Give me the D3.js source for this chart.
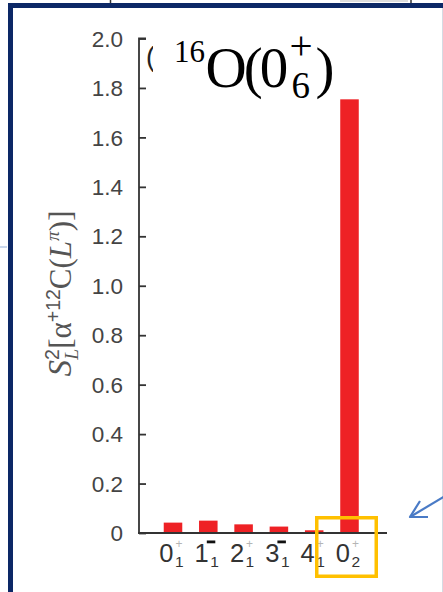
<!DOCTYPE html>
<html><head><meta charset="utf-8">
<script src="https://cdn.jsdelivr.net/npm/d3@7"></script>
<style>html,body{margin:0;padding:0;background:#fff;overflow:hidden}</style>
</head><body>
<svg id="c" width="443" height="592"></svg>
<script>
// ---- data ----
const stateSpins = ["0","1","2","3","4","0"];
const stateParity = ["+","−","+","−","+","+"];
const stateIndex = ["1","1","1","1","1","2"];
const values = [0.042, 0.05, 0.035, 0.026, 0.011, 1.754];
const yTicks = [0,0.2,0.4,0.6,0.8,1.0,1.2,1.4,1.6,1.8,2.0];
const yTickLabels = ["0","0.2","0.4","0.6","0.8","1.0","1.2","1.4","1.6","1.8","2.0"];

const svg = d3.select("#c");
const navy = "#0c2866";

// slide background / frame
svg.append("rect").attr("width",443).attr("height",592).attr("fill","#fff");
svg.append("rect").attr("x",8).attr("y",3).attr("width",435).attr("height",5).attr("fill",navy);
svg.append("rect").attr("x",8).attr("y",3).attr("width",5).attr("height",589).attr("fill",navy);
svg.append("line").attr("x1",442.5).attr("x2",442.5).attr("y1",8).attr("y2",592).attr("stroke","#d5dbe3").attr("stroke-width",1);
svg.append("line").attr("x1",0).attr("x2",7).attr("y1",247).attr("y2",247).attr("stroke","#b9cbe6").attr("stroke-width",1.5);
svg.append("line").attr("x1",340).attr("x2",408).attr("y1",1).attr("y2",1).attr("stroke","#bbb").attr("stroke-width",1);
svg.append("line").attr("x1",110.5).attr("x2",110.5).attr("y1",0).attr("y2",3).attr("stroke","#333").attr("stroke-width",1.5);
svg.append("line").attr("x1",411).attr("x2",411).attr("y1",0).attr("y2",3).attr("stroke","#333").attr("stroke-width",1.5);

// scales
const y = d3.scaleLinear().domain([0,2]).range([533,38.5]);
const idx = d3.range(values.length);
const x = d3.scaleBand().domain(idx).range([155.35,367.15]).paddingInner(0.475).paddingOuter(0.2375);

// bars
svg.append("g").selectAll("rect").data(values).join("rect")
  .attr("x",(d,i)=>x(i)).attr("width",x.bandwidth())
  .attr("y",d=>y(d)).attr("height",d=>y(0)-y(d))
  .attr("fill","#ee2125");

// y axis (ticks pointing inward)
const yAxis = d3.axisRight(y).tickValues(yTicks).tickSize(7).tickFormat(()=>"");
const ga = svg.append("g").attr("transform","translate(139,0)").call(yAxis);
ga.select(".domain").attr("stroke","#333").attr("stroke-width",1.8).attr("d","M7,38.5H0V533");
ga.selectAll(".tick line").attr("stroke","#333").attr("stroke-width",1.8);
svg.append("g").selectAll("text").data(yTicks).join("text")
  .attr("x",123).attr("y",d=>y(d)).attr("dy","0.36em")
  .attr("text-anchor","end").attr("font-family","Liberation Sans, Arial, sans-serif")
  .attr("font-size",22.5).attr("fill","#444").text((d,i)=>yTickLabels[i]);

// x axis line
svg.append("line").attr("x1",138).attr("x2",387).attr("y1",y(0)).attr("y2",y(0))
  .attr("stroke","#333").attr("stroke-width",2);

// x labels
const xl = svg.append("g").attr("font-family","Liberation Sans, Arial, sans-serif");
idx.forEach(i=>{
  const c = x(i)+x.bandwidth()/2;
  xl.append("text").attr("x",c+0.5).attr("y",562).attr("text-anchor","end")
    .attr("font-size",25.5).attr("fill","#333").text(stateSpins[i]);
  xl.append("text").attr("x",c+2).attr("y",567).attr("font-size",15.5).attr("fill","#333").text(stateIndex[i]);
  if (stateParity[i]==="+") {
    xl.append("text").attr("x",c+2.5).attr("y",548).attr("font-size",12).attr("fill","#b5b5b5").text("+");
  } else {
    xl.append("rect").attr("x",c-1.5).attr("y",540.5).attr("width",8.5).attr("height",2.8).attr("fill","#111");
  }
});

// highlight box
svg.append("rect").attr("x",316.75).attr("y",517.75).attr("width",59.5).attr("height",58.5)
  .attr("fill","none").attr("stroke","#ffc000").attr("stroke-width",3.5);

// arrow
const ac = "#4a7bc6";
svg.append("line").attr("x1",445).attr("y1",496).attr("x2",410).attr("y2",517).attr("stroke",ac).attr("stroke-width",2.2);
svg.append("polyline").attr("points","420,501 410,517 428,517").attr("fill","none").attr("stroke",ac).attr("stroke-width",2.2).attr("stroke-linejoin","round");

// y axis label
const sans = "Liberation Sans, Arial, sans-serif";
const serif = "Liberation Serif, Times New Roman, serif";
const yl = svg.append("text").attr("transform","translate(71,293.5) rotate(-90)")
  .attr("text-anchor","middle").attr("font-family",sans)
  .attr("font-size",31).attr("fill","#555");
yl.append("tspan").attr("font-family",serif).attr("font-style","italic").attr("font-size",33).text("S");
yl.append("tspan").attr("font-size",19.5).attr("dy",-12.5).text("2");
yl.append("tspan").attr("font-size",19.5).attr("font-family",serif).attr("font-style","italic").attr("dx",-10.5).attr("dy",19.5).text("L");
yl.append("tspan").attr("dy",-7).attr("font-family",serif).text("[");
yl.append("tspan").attr("font-family",serif).text("α");
yl.append("tspan").attr("font-size",19.5).attr("dy",-11.5).text("+");
yl.append("tspan").attr("font-size",19.5).text("12");
yl.append("tspan").attr("dy",11.5).attr("font-family",serif).text("C(");
yl.append("tspan").attr("font-family",serif).attr("font-style","italic").text("L");
yl.append("tspan").attr("font-size",19.5).attr("font-family",serif).attr("font-style","italic").attr("dy",-12.5).text("π");
yl.append("tspan").attr("dy",12.5).attr("font-family",serif).text(")]");

// clipped remnant of original title
svg.append("clipPath").attr("id","cl").append("rect").attr("x",140).attr("y",40).attr("width",13).attr("height",40);
svg.append("text").attr("clip-path","url(#cl)").attr("x",146).attr("y",66)
  .attr("font-family",sans).attr("font-size",27).attr("fill","#222").text("(");

// title
const titleParts = [
  {t:"16",  x:174,   y:62, s:31, ls:0},
  {t:"O(0", x:205.5, y:87, s:57, ls:-3},
  {t:"+",   x:289.5, y:59, s:41, ls:0},
  {t:"6",   x:291.5, y:98, s:37, ls:0},
  {t:")",   x:315.5, y:87, s:57, ls:0}
];
svg.append("text").attr("font-family",serif).attr("fill","#000")
  .selectAll("tspan").data(titleParts).join("tspan")
  .attr("x",d=>d.x).attr("y",d=>d.y).attr("font-size",d=>d.s)
  .attr("letter-spacing",d=>d.ls).text(d=>d.t);
</script>
</body></html>
